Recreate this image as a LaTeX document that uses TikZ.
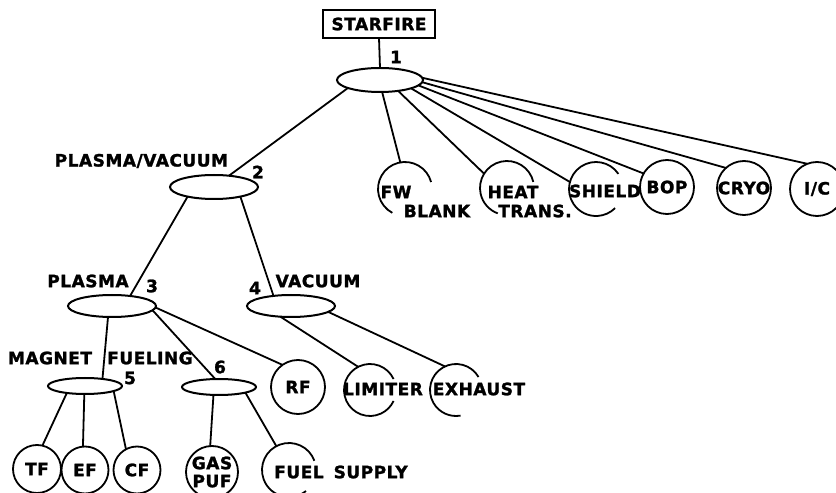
\documentclass[tikz,border=0pt]{standalone}
\usepackage{fontspec}
\newfontfamily\labfont[LetterSpace=3, BoldFeatures={FakeBold=1.5}]{DejaVu Sans}
\usetikzlibrary{shapes.geometric}
\begin{document}
\begin{tikzpicture}[x=1pt,y=1pt,
  every node/.style={inner sep=0pt, outer sep=0pt},
  lab/.style={font=\labfont\bfseries\fontsize{17}{18}\selectfont},
  ell/.style={draw, ellipse, line width=2pt},
  circ/.style={draw, circle, line width=1.8pt, minimum size=54pt, lab},
  ghost/.style={circle, minimum size=54pt},
  link/.style={line width=1.8pt},
  ring/.style={line width=1.8pt}]
\useasboundingbox (0,0) rectangle (836,493);
\fill[white] (0,0) rectangle (836,493);
\clip (0,0) rectangle (836,493);

% hierarchy nodes
\node[draw, line width=1.8pt, minimum width=112pt, minimum height=28pt, lab] (top) at (379,469) {STARFIRE};
\node[ell, minimum width=86pt, minimum height=24pt] (e1) at (380,413) {};
\node[ell, minimum width=88pt, minimum height=24pt] (e2) at (214,306) {};
\node[ell, minimum width=88pt, minimum height=22pt] (e3) at (112,187) {};
\node[ell, minimum width=88pt, minimum height=22pt] (e4) at (291,187) {};
\node[ell, minimum width=74pt, minimum height=16pt] (e5) at (85,107) {};
\node[ell, minimum width=74pt, minimum height=16pt] (e6) at (219,106) {};

% leaves
\node[ghost] (fw) at (405,304) {};
\node[ghost] (heat) at (507,305) {};
\node[ghost] (shield) at (596,304) {};
\node[circ] (bop) at (667,306) {BOP};
\node[circ] (cryo) at (744,305) {CRYO};
\node[circ] (ic) at (817,304) {I/C};
\node[circ] (rf) at (298,106) {RF};
\node[ghost, minimum size=52pt] (lim) at (370,103) {};
\node[ghost, minimum size=52pt] (exh) at (456,103) {};
\node[circ, minimum size=48pt] (tf) at (37,24) {TF};
\node[circ, minimum size=47pt] (ef) at (85,23) {EF};
\node[circ, minimum size=47pt] (cf) at (137,23) {CF};
\node[circ, minimum size=52pt, align=center] (gas) at (212,21) {GAS\\PUF};
\node[ghost] (fuel) at (289,23) {};

% open rings
\draw[ring] ([shift={(15:27pt)}]fw.center) arc[start angle=15, end angle=242, radius=27pt];
\draw[ring] ([shift={(13:27pt)}]heat.center) arc[start angle=13, end angle=250, radius=27pt];
\draw[ring] ([shift={(34:27pt)}]shield.center) arc[start angle=34, end angle=315, radius=27pt];
\draw[ring] ([shift={(25:26pt)}]lim.center) arc[start angle=25, end angle=335, radius=26pt];
\draw[ring] ([shift={(30:26pt)}]exh.center) arc[start angle=30, end angle=280, radius=26pt];
\draw[ring] ([shift={(20:27pt)}]fuel.center) arc[start angle=20, end angle=309, radius=27pt];

% labels
\node[lab] (l1) at (396,436) {1};
\node[lab, anchor=east] (lpv) at (228,332) {PLASMA/VACUUM};
\node[lab] (l2) at (258,321) {2};
\node[lab] (lpl) at (88,212) {PLASMA};
\node[lab] (l3) at (152,207) {3};
\node[lab] (l4) at (255,205) {4};
\node[lab] (lva) at (318,212) {VACUUM};
\node[lab] (lmag) at (50,135) {MAGNET};
\node[lab] (lfue) at (150,135) {FUELING};
\node[lab] (l5) at (130,115) {5};
\node[lab] (l6) at (220,126) {6};
\node[lab] (llim) at (383,104) {LIMITER};
\node[lab] (lexh) at (479,104) {EXHAUST};
\node[lab] (lfw) at (396,301) {FW};
\node[lab] (lbl) at (437,282) {BLANK};
\node[lab] (lheat) at (513,301) {HEAT};
\node[lab] (ltr) at (535,282) {TRANS.};
\node[lab] (lsh) at (605,302) {SHIELD};
\node[lab] (lfs) at (341,21) {FUEL\hspace{10pt}SUPPLY};

% connectors
\draw[link] (top.south) -- (e1.north);
\draw[link] (e1.194) -- (e2.37);
\draw[link] (e1.280) -- (fw.100);
\draw[link] (e1.329) -- (heat.148);
\draw[link] (e1.345) -- (shield.165);
\draw[link] (e1.352) -- (bop.150);
\draw[link] (e1.357) -- (cryo.132);
\draw[link] (e1.3) -- (ic.111);
\draw[link] (e2.200) -- (e3.29);
\draw[link] (e2.340) -- (e4.150);
\draw[link] (e3.250) -- (e5.22);
\draw[link] (e3.354) -- (e6.115);
\draw[link] (e3.358) -- (rf.125);
\draw[link] (e4.225) -- (lim.117);
\draw[link] (e4.351) -- (exh.115);
\draw[link] (e5.201) -- (tf.77);
\draw[link] (e5.265) -- (ef.95);
\draw[link] (e5.350) -- (cf.118);
\draw[link] (e6.235) -- (gas.94);
\draw[link] (e6.348) -- (fuel.118);
\end{tikzpicture}
\end{document}
